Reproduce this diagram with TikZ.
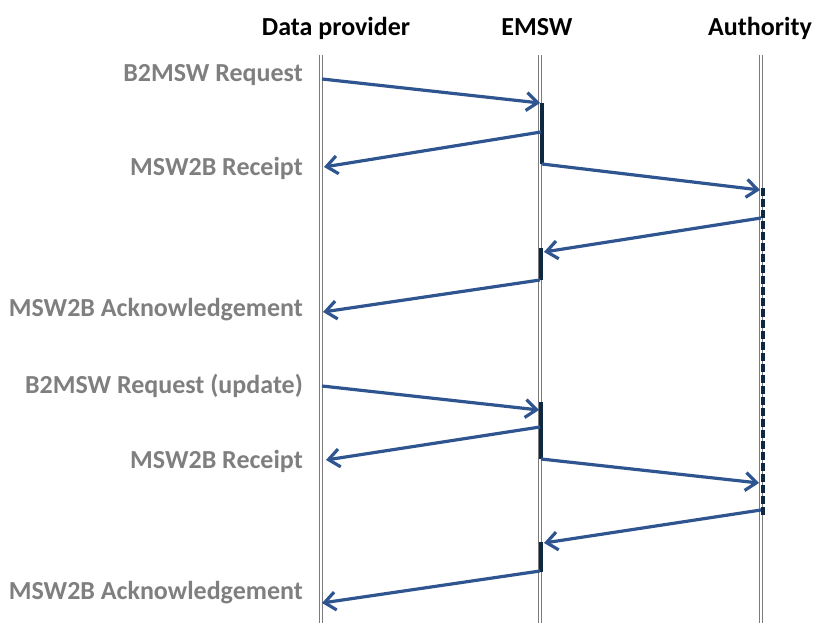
\documentclass[tikz,border=0pt]{standalone}
\usepackage{fontspec}
\setmainfont{Carlito}
\usetikzlibrary{arrows.meta}
\definecolor{msgblue}{HTML}{2F5590}
\definecolor{barnavy}{HTML}{0E2841}
\definecolor{lblgray}{HTML}{7F7F7F}
\definecolor{linegray}{HTML}{7A7A7A}
\tikzset{
  lifeline/.style={draw=linegray, line width=1.3pt, double=white, double distance=1.1pt},
  msg/.style={draw=msgblue, line width=3.2pt, -{Straight Barb[length=11pt,width=18pt,line width=3.2pt]}},
  actbar/.style={draw=barnavy, line width=4.4pt},
  actdash/.style={draw=barnavy, line width=4.4pt, dash pattern=on 8pt off 3pt},
  header/.style={font=\fontsize{26}{30}\selectfont\bfseries, text=black, inner sep=0pt},
  lbl/.style={font=\fontsize{26}{30}\selectfont\bfseries, text=lblgray, inner sep=0pt, anchor=east}
}
\begin{document}
\begin{tikzpicture}[x=1pt,y=-1pt]
\useasboundingbox (0,0) rectangle (815,623);
% headers
\node[header] (hdp) at (336,28) {Data provider};
\node[header] (hem) at (537,27) {EMSW};
\node[header] (hau) at (760,28) {Authority};
% lifelines
\coordinate (dpt) at (321,55); \coordinate (dpb) at (321,623);
\coordinate (emt) at (540,55); \coordinate (emb) at (540,623);
\coordinate (aut) at (761,55); \coordinate (aub) at (761,623);
\draw[lifeline] (dpt) -- (dpb);
\draw[lifeline] (emt) -- (emb);
\draw[lifeline] (aut) -- (aub);
% activation bars
\coordinate (b1t) at (542,103); \coordinate (b1b) at (542,164);
\coordinate (b2t) at (541,248); \coordinate (b2b) at (541,280);
\coordinate (b3t) at (541,402); \coordinate (b3b) at (541,459);
\coordinate (b4t) at (541,542); \coordinate (b4b) at (541,572);
\coordinate (a1t) at (763,188); \coordinate (a1b) at (763,516);
\draw[actbar] (b1t) -- (b1b);
\draw[actbar] (b2t) -- (b2b);
\draw[actbar] (b3t) -- (b3b);
\draw[actbar] (b4t) -- (b4b);
\draw[actdash] (a1t) -- (a1b);
% message endpoints
\coordinate (m1s) at (322,79);  \coordinate (m1e) at (540,103);
\coordinate (m2s) at (541,132); \coordinate (m2e) at (324,167);
\coordinate (m3s) at (542,164); \coordinate (m3e) at (760,190);
\coordinate (m4s) at (761,218); \coordinate (m4e) at (544,252);
\coordinate (m5s) at (540,280); \coordinate (m5e) at (323,312);
\coordinate (m6s) at (322,386); \coordinate (m6e) at (539,410);
\coordinate (m7s) at (540,427); \coordinate (m7e) at (326,460);
\coordinate (m8s) at (541,459); \coordinate (m8e) at (759,483);
\coordinate (m9s) at (761,510); \coordinate (m9e) at (544,543);
\coordinate (m10s) at (540,571); \coordinate (m10e) at (322,603);
\draw[msg] (m1s) -- (m1e);
\draw[msg] (m2s) -- (m2e);
\draw[msg] (m3s) -- (m3e);
\draw[msg] (m4s) -- (m4e);
\draw[msg] (m5s) -- (m5e);
\draw[msg] (m6s) -- (m6e);
\draw[msg] (m7s) -- (m7e);
\draw[msg] (m8s) -- (m8e);
\draw[msg] (m9s) -- (m9e);
\draw[msg] (m10s) -- (m10e);
% labels
\node[lbl] (l1) at (303,75) {B2MSW Request};
\node[lbl] (l2) at (303,168) {MSW2B Receipt};
\node[lbl] (l3) at (303,310) {MSW2B Acknowledgement};
\node[lbl] (l4) at (303,386) {B2MSW Request (update)};
\node[lbl] (l5) at (303,461) {MSW2B Receipt};
\node[lbl] (l6) at (303,593) {MSW2B Acknowledgement};
\end{tikzpicture}
\end{document}
